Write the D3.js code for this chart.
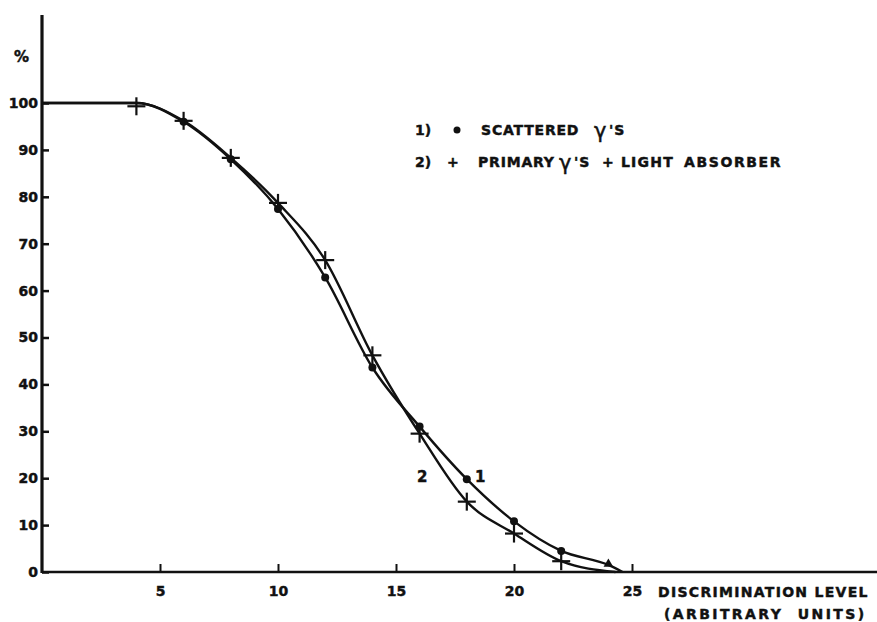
<!DOCTYPE html>
<html>
<head>
<meta charset="utf-8">
<script src="https://d3js.org/d3.v7.min.js"></script>
<style>
    body { margin: 0; background: #fff; }
    text { font-family: "DejaVu Sans", sans-serif; font-weight: bold; fill: #111; stroke: #111; stroke-width: 0.45px; }
</style>
</head>
<body>
<div id="chart"></div>
<script>
// values
const levels1 = [6, 8, 10, 12, 14, 16, 18, 20, 22, 24];
const scattered = [96, 88, 77.4, 62.8, 43.6, 31, 19.8, 10.8, 4.5, 1.5];
const levels2 = [4, 6, 8, 10, 12, 14, 16, 18, 20, 22];
const primary = [99.3, 96.2, 88.3, 78.7, 66.5, 46.2, 29.5, 15, 8.2, 2.3];
// where the drawn curves start (flat at 100 %) and meet the axis
const curveStart = [[0, 100], [4, 100]];
const curve1End = [24.6, 0];
const curve2End = [24.3, 0];
const xTicks = [5, 10, 15, 20, 25];
const yTicks = [0, 10, 20, 30, 40, 50, 60, 70, 80, 90, 100];

document.addEventListener("DOMContentLoaded", function () {
    const width = 877;
    const height = 622;

    const svg = d3.select("#chart").append("svg")
        .attr("width", width)
        .attr("height", height);

    const x = d3.scaleLinear().domain([0, 25]).range([42, 632]);
    const y = d3.scaleLinear().domain([0, 100]).range([572, 103]);

    // axes
    const yAxis = d3.axisLeft(y)
        .tickValues(yTicks)
        .tickSizeInner(-7)
        .tickSizeOuter(0)
        .tickPadding(4);
    const yg = svg.append("g")
        .attr("transform", `translate(${x(0)},0)`)
        .call(yAxis);
    yg.select(".domain").remove();
    yg.selectAll(".tick line").attr("stroke", "#111").attr("stroke-width", 2.5);
    yg.selectAll(".tick text").style("font-size", "14px").style("font-family", "DejaVu Sans").style("font-weight", "bold");

    const xAxis = d3.axisBottom(x)
        .tickValues(xTicks)
        .tickSizeInner(-8)
        .tickSizeOuter(0)
        .tickPadding(14);
    const xg = svg.append("g")
        .attr("transform", `translate(0,${y(0)})`)
        .call(xAxis);
    xg.select(".domain").remove();
    xg.selectAll(".tick line").attr("stroke", "#111").attr("stroke-width", 2);
    xg.selectAll(".tick text").style("font-size", "14px").style("font-family", "DejaVu Sans").style("font-weight", "bold");

    svg.append("line")
        .attr("x1", x(0)).attr("x2", x(0))
        .attr("y1", 15).attr("y2", y(0) + 1)
        .attr("stroke", "#111").attr("stroke-width", 3.2);
    svg.append("line")
        .attr("x1", x(0)).attr("x2", width)
        .attr("y1", y(0)).attr("y2", y(0))
        .attr("stroke", "#111").attr("stroke-width", 2.5);

    svg.append("text").attr("x", 14).attr("y", 62).style("font-size", "15px").text("%");

    // curves
    const line = d3.line()
        .x(d => x(d[0]))
        .y(d => y(d[1]))
        .curve(d3.curveMonotoneX);

    const pts1 = levels1.map((l, i) => [l, scattered[i]]);
    const pts2 = levels2.map((l, i) => [l, primary[i]]);

    const curve1 = curveStart.concat(pts1, [curve1End]);
    const curve2 = curveStart.concat(pts2.filter(d => d[0] > 4), [curve2End]);

    [curve1, curve2].forEach(c => {
        svg.append("path")
            .attr("d", line(c))
            .attr("fill", "none")
            .attr("stroke", "#111")
            .attr("stroke-width", 2.4);
    });

    // markers: dots (series 1), last one drawn as small triangle
    svg.selectAll(".dot")
        .data(pts1.slice(0, -1))
        .join("circle")
        .attr("class", "dot")
        .attr("cx", d => x(d[0]))
        .attr("cy", d => y(d[1]))
        .attr("r", 4)
        .attr("fill", "#111");
    const last = pts1[pts1.length - 1];
    svg.append("path")
        .attr("d", d3.symbol().type(d3.symbolTriangle).size(40)())
        .attr("transform", `translate(${x(last[0])},${y(last[1]) - 1})`)
        .attr("fill", "#111");

    // markers: crosses (series 2)
    const cross = svg.selectAll(".cross")
        .data(pts2)
        .join("g")
        .attr("class", "cross")
        .attr("transform", d => `translate(${x(d[0])},${y(d[1])})`);
    cross.append("line").attr("x1", -9).attr("x2", 9).attr("y1", 0).attr("y2", 0)
        .attr("stroke", "#111").attr("stroke-width", 2.2);
    cross.append("line").attr("x1", 0).attr("x2", 0).attr("y1", -9).attr("y2", 9)
        .attr("stroke", "#111").attr("stroke-width", 2.2);

    // curve labels
    svg.append("text").attr("x", 417).attr("y", 482).style("font-size", "15px").text("2");
    svg.append("text").attr("x", 475).attr("y", 482).style("font-size", "15px").text("1");

    // legend
    const lg = svg.append("g").style("font-size", "14px");
    lg.append("text").attr("x", 415).attr("y", 135).text("1)");
    lg.append("circle").attr("cx", 457).attr("cy", 130).attr("r", 3.5).attr("fill", "#111");
    lg.append("text").attr("x", 481).attr("y", 135).style("letter-spacing", "0.8px").text("SCATTERED");
    lg.append("text").attr("x", 594).attr("y", 138).style("font-size", "21px").style("font-weight", "normal").text("γ");
    lg.append("text").attr("x", 609).attr("y", 135).style("letter-spacing", "1px").text("'S");

    lg.append("text").attr("x", 415).attr("y", 167).text("2)");
    lg.append("text").attr("x", 447).attr("y", 167).text("+");
    lg.append("text").attr("x", 478).attr("y", 167).style("letter-spacing", "0.8px").text("PRIMARY");
    lg.append("text").attr("x", 559).attr("y", 170).style("font-size", "21px").style("font-weight", "normal").text("γ");
    lg.append("text").attr("x", 574).attr("y", 167).style("letter-spacing", "1px").text("'S");
    lg.append("text").attr("x", 602).attr("y", 167).text("+");
    lg.append("text").attr("x", 621).attr("y", 167).style("letter-spacing", "1.2px").text("LIGHT");
    lg.append("text").attr("x", 684).attr("y", 167).style("letter-spacing", "1.6px").text("ABSORBER");

    // axis title
    svg.append("text").attr("x", 658).attr("y", 597)
        .style("font-size", "14px").style("letter-spacing", "1.3px")
        .text("DISCRIMINATION LEVEL");
    svg.append("text").attr("x", 664).attr("y", 619)
        .style("font-size", "14px").style("letter-spacing", "2.4px")
        .attr("xml:space", "preserve")
        .text("(ARBITRARY  UNITS)");
});
</script>
</body>
</html>
